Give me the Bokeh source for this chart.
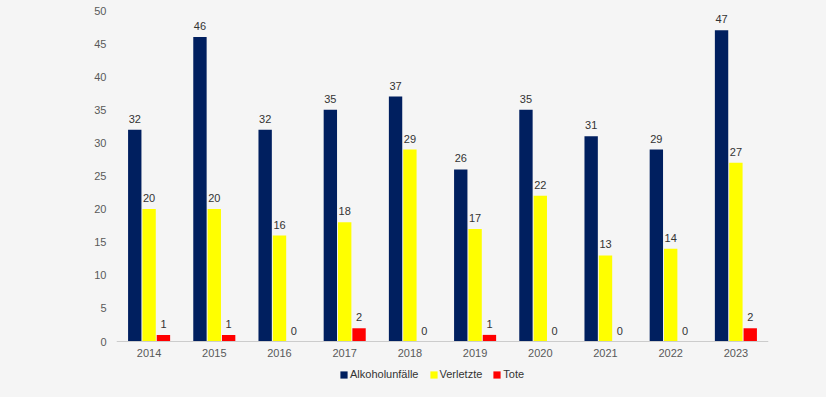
from bokeh.plotting import figure
from bokeh.models import ColumnDataSource, FactorRange, Legend, LegendItem, Range1d
from bokeh.transform import dodge
from bokeh.core.properties import value
from bokeh.embed import file_html
from bokeh.resources import INLINE

years = ["2014", "2015", "2016", "2017", "2018", "2019", "2020", "2021", "2022", "2023"]
alkohol = [32, 46, 32, 35, 37, 26, 35, 31, 29, 47]
verletzte = [20, 20, 16, 18, 29, 17, 22, 13, 14, 27]
tote = [1, 1, 0, 2, 0, 1, 0, 0, 0, 2]
y_ticks = [0, 5, 10, 15, 20, 25, 30, 35, 40, 45, 50]

src = ColumnDataSource(dict(
    years=years, alkohol=alkohol, verletzte=verletzte, tote=tote,
    alkohol_t=[str(v) for v in alkohol],
    verletzte_t=[str(v) for v in verletzte],
    tote_t=[str(v) for v in tote],
))

BG = "#f5f5f5"
FONT = "Liberation Sans"

# frame spans the full lower area; y=0 sits 40px above the figure bottom
p = figure(width=810, height=381, x_range=FactorRange(*years, range_padding=0),
           y_range=Range1d(-50 * 40 / 331, 50), output_backend="svg",
           toolbar_location=None,
           min_border_left=116, min_border_right=42, min_border_top=10,
           min_border_bottom=0)
p.background_fill_color = BG
p.border_fill_color = BG
p.outline_line_color = None
p.xgrid.grid_line_color = None
p.ygrid.grid_line_color = None

series = [
    ("alkohol", "Alkoholunfälle", "#001f5f", -0.22),
    ("verletzte", "Verletzte", "#ffff00", 0.0),
    ("tote", "Tote", "#ff0000", 0.22),
]
items = []
for col, label, color, off in series:
    r = p.vbar(x=dodge("years", off, range=p.x_range), top=col, bottom=0,
               width=0.205, source=src, fill_color=color, line_color=None)
    items.append(LegendItem(label=label, renderers=[r]))
    p.text(x=dodge("years", off, range=p.x_range), y=col, text=col + "_t",
           source=src, text_align="center", text_baseline="alphabetic",
           y_offset=-11, text_font_size="11px", text_color="#333333",
           text_font=value(FONT))

# axes
p.yaxis.ticker = y_ticks
p.yaxis.axis_line_color = None
p.yaxis.major_tick_line_color = None
p.yaxis.minor_tick_line_color = None
p.yaxis.major_tick_out = 0
p.yaxis.major_label_standoff = 10
p.yaxis.major_label_text_font_size = "11px"
p.yaxis.major_label_text_color = "#595959"
p.yaxis.major_label_text_font = FONT

p.xaxis.fixed_location = 0
p.xaxis.axis_line_color = "#cccccc"
p.xaxis.axis_line_width = 1
p.xaxis.major_tick_line_color = None
p.xaxis.minor_tick_line_color = None
p.xaxis.major_tick_out = 0
p.xaxis.major_label_standoff = 7
p.xaxis.major_label_text_font_size = "11px"
p.xaxis.major_label_text_color = "#595959"
p.xaxis.major_label_text_font = FONT

# legend inside the frame, below the axis labels
lg = Legend(items=items, location=(223, 1), orientation="horizontal",
            glyph_width=9, glyph_height=9, label_height=9, label_standoff=2,
            spacing=10, padding=0, margin=0, border_line_color=None,
            background_fill_alpha=0, label_text_font_size="11px",
            label_text_color="#333333", label_text_font=FONT)
p.add_layout(lg, "center")

html = file_html(p, INLINE)
html = html.replace("</head>", "<style>html,body{background:#f5f5f5}</style></head>", 1)
open("out.html", "w").write(html)
